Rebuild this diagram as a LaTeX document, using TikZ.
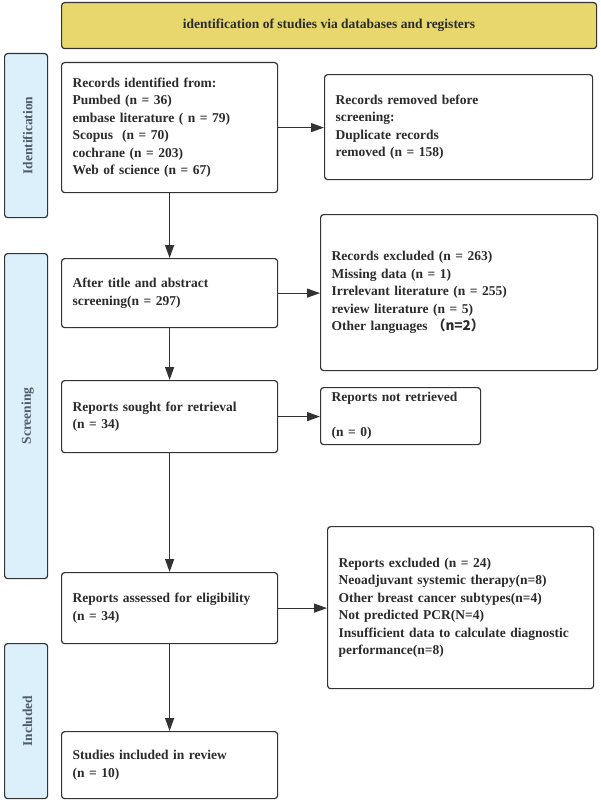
\documentclass[tikz,border=0pt]{standalone}
\usepackage{fontspec}
\setmainfont{Liberation Serif}
\newfontfamily\cjk{Noto Sans CJK SC}
\usepackage{tikz}
\usetikzlibrary{arrows.meta,positioning}
\definecolor{edge}{HTML}{333333}
\definecolor{ink}{HTML}{2B2B2B}
\definecolor{titlebg}{HTML}{E8D76C}
\definecolor{phasebg}{HTML}{DCF0FB}
\definecolor{phaseink}{HTML}{505D69}
\newcommand{\boxfont}{\fontsize{13.5}{17.5}\selectfont\bfseries}
\tikzset{
  titlebar/.style={draw=edge,fill=titlebg,rounded corners=3pt,
                   line width=1.2pt,text=ink,font=\boxfont},
  phase/.style={draw=edge,fill=phasebg,rounded corners=3pt,
                line width=1.2pt,minimum width=43pt},
  phasetext/.style={text=phaseink,font=\boxfont,rotate=90},
  stepbox/.style={draw=edge,fill=white,rounded corners=3pt,line width=1.2pt,
                  align=left,inner xsep=11pt,inner ysep=0pt,text=ink,
                  font=\boxfont},
  arrowmain/.style={-{Triangle[length=13pt,width=9pt]},line width=1.2pt,edge},
}

\begin{document}
\begin{tikzpicture}[x=1pt,y=-1pt]
  \useasboundingbox(0,0)rectangle(600,800);

  % header bar
  \node[titlebar,minimum width=535pt,minimum height=46pt,
        anchor=north west](head)at(61,2)
    {identification of studies via databases and registers};

  % phase strips on the left
  \node[phase,minimum height=164pt,anchor=north west](idph)at(4,53){};
  \node[phasetext](idlbl)at([xshift=1.5pt]idph.center){Identification};
  \node[phase,minimum height=325pt,anchor=north west](scph)at(4,253){};
  \node[phasetext](sclbl)at([xshift=1.5pt]scph.center){Screening};
  \node[phase,minimum height=155pt,anchor=north west](inph)at(4,643){};
  \node[phasetext](inlbl)at([xshift=1.5pt]inph.center){Included};

  % main column
  \node[stepbox,text width=194pt,minimum height=130pt,
        anchor=north west](rec)at(61,62){%
    Records identified from:\\
    Pumbed (n = 36)\\
    embase literature ( n = 79)\\
    Scopus\ \ (n = 70)\\
    cochrane (n = 203)\\
    Web of science (n = 67)};
  \node[stepbox,text width=194pt,minimum height=69pt,
        anchor=north west](after)at(61,258){%
    After title and abstract\\
    screening(n = 297)};
  \node[stepbox,text width=194pt,minimum height=72pt,
        anchor=north west](sought)at(61,380){%
    Reports sought for retrieval\\
    (n = 34)};
  \node[stepbox,text width=194pt,minimum height=71pt,
        anchor=north west](assess)at(61,572){%
    Reports assessed for eligibility\\
    (n = 34)};
  \node[stepbox,text width=194pt,minimum height=67pt,
        anchor=north west](incl)at(61,731){%
    Studies included in review\\
    (n = 10)};

  % side column
  \node[stepbox,text width=246pt,minimum height=105pt,
        anchor=north west](removed)at(324,74){%
    Records removed before\\
    screening:\\
    Duplicate records\\
    removed (n = 158)};
  \node[stepbox,text width=255pt,minimum height=156pt,
        anchor=north west](excl)at(320,214){%
    Records excluded (n = 263)\\
    Missing data (n = 1)\\
    Irrelevant literature (n = 255)\\
    review literature (n = 5)\\
    Other languages \cjk{（}n=2\cjk{）}};
  \node[stepbox,text width=138pt,minimum height=57pt,
        anchor=north west](notret)at(320,387){%
    Reports not retrieved\\[17.5pt]
    (n = 0)};
  \node[stepbox,text width=244pt,minimum height=162pt,
        anchor=north west](repexcl)at(327,526){%
    Reports excluded (n = 24)\\
    Neoadjuvant systemic therapy(n=8)\\
    Other breast cancer subtypes(n=4)\\
    Not predicted PCR(N=4)\\
    Insufficient data to calculate diagnostic\\
    performance(n=8)};

  % connectors
  \draw[arrowmain](rec)--(after);
  \draw[arrowmain](after)--(sought);
  \draw[arrowmain](sought)--(assess);
  \draw[arrowmain](assess)--(incl);
  \draw[arrowmain](rec.east)--(rec.east-|removed.west);
  \draw[arrowmain](after.east)--(after.east-|excl.west);
  \draw[arrowmain](sought.east)--(sought.east-|notret.west);
  \draw[arrowmain](assess.east)--(assess.east-|repexcl.west);
\end{tikzpicture}
\end{document}
